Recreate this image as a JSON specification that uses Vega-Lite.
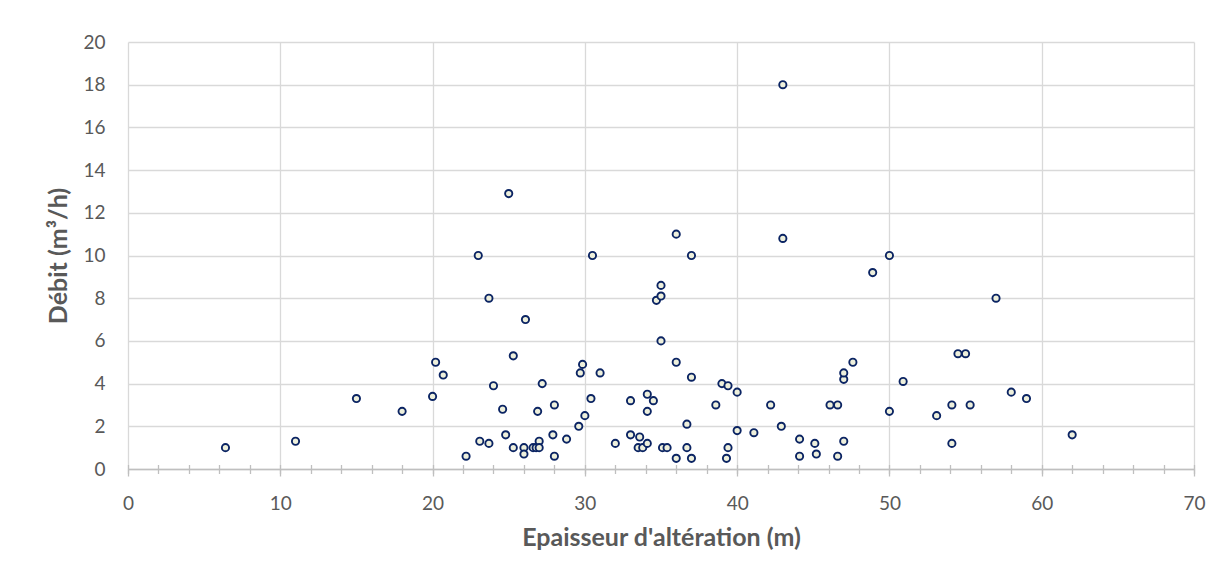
{
  "$schema": "https://vega.github.io/schema/vega-lite/v6.json",
  "autosize": {"type": "none"},
  "width": 1066,
  "height": 427,
  "padding": {"left": 128, "top": 42, "right": 31, "bottom": 111},
  "background": "white",
  "config": {
    "view": {"stroke": null},
    "font": "Lato",
    "axis": {"labelFont": "Lato", "titleFont": "Lato", "labelColor": "#595959", "titleColor": "#595959"}
  },
  "datasets": {
    "pts": [
      {"e": 6.4, "d": 1.0}, {"e": 11.0, "d": 1.3}, {"e": 15.0, "d": 3.3}, {"e": 18.0, "d": 2.7},
      {"e": 20.0, "d": 3.4}, {"e": 20.2, "d": 5.0}, {"e": 20.7, "d": 4.4}, {"e": 22.2, "d": 0.6},
      {"e": 23.1, "d": 1.3}, {"e": 23.0, "d": 10.0}, {"e": 23.7, "d": 1.2}, {"e": 23.7, "d": 8.0},
      {"e": 24.0, "d": 3.9}, {"e": 24.6, "d": 2.8}, {"e": 24.8, "d": 1.6}, {"e": 25.0, "d": 12.9},
      {"e": 25.3, "d": 1.0}, {"e": 25.3, "d": 5.3}, {"e": 26.1, "d": 7.0}, {"e": 26.0, "d": 1.0},
      {"e": 26.0, "d": 0.7}, {"e": 26.6, "d": 1.0}, {"e": 26.8, "d": 1.0}, {"e": 27.0, "d": 1.3},
      {"e": 27.0, "d": 1.0}, {"e": 26.9, "d": 2.7}, {"e": 27.2, "d": 4.0}, {"e": 28.0, "d": 3.0},
      {"e": 27.9, "d": 1.6}, {"e": 28.0, "d": 0.6}, {"e": 28.8, "d": 1.4}, {"e": 29.6, "d": 2.0},
      {"e": 29.7, "d": 4.5}, {"e": 29.85, "d": 4.9}, {"e": 30.0, "d": 2.5}, {"e": 30.4, "d": 3.3},
      {"e": 30.5, "d": 10.0}, {"e": 31.0, "d": 4.5}, {"e": 32.0, "d": 1.2}, {"e": 33.0, "d": 3.2},
      {"e": 33.0, "d": 1.6}, {"e": 33.6, "d": 1.5}, {"e": 33.5, "d": 1.0}, {"e": 33.8, "d": 1.0},
      {"e": 34.1, "d": 1.2}, {"e": 34.1, "d": 3.5}, {"e": 34.1, "d": 2.7}, {"e": 34.5, "d": 3.2},
      {"e": 34.7, "d": 7.9}, {"e": 35.0, "d": 8.6}, {"e": 35.0, "d": 8.1}, {"e": 35.0, "d": 6.0},
      {"e": 35.1, "d": 1.0}, {"e": 35.4, "d": 1.0}, {"e": 36.0, "d": 0.5}, {"e": 36.0, "d": 11.0},
      {"e": 36.0, "d": 5.0}, {"e": 36.7, "d": 2.1}, {"e": 36.7, "d": 1.0}, {"e": 37.0, "d": 0.5},
      {"e": 37.0, "d": 10.0}, {"e": 37.0, "d": 4.3}, {"e": 38.6, "d": 3.0}, {"e": 39.0, "d": 4.0},
      {"e": 39.4, "d": 3.9}, {"e": 39.3, "d": 0.5}, {"e": 39.4, "d": 1.0}, {"e": 40.0, "d": 3.6},
      {"e": 40.0, "d": 1.8}, {"e": 41.1, "d": 1.7}, {"e": 42.2, "d": 3.0}, {"e": 42.9, "d": 2.0},
      {"e": 43.0, "d": 18.0}, {"e": 43.0, "d": 10.8}, {"e": 44.1, "d": 1.4}, {"e": 44.1, "d": 0.6},
      {"e": 45.1, "d": 1.2}, {"e": 45.2, "d": 0.7}, {"e": 46.1, "d": 3.0}, {"e": 46.6, "d": 3.0},
      {"e": 46.6, "d": 0.6}, {"e": 47.0, "d": 1.3}, {"e": 47.0, "d": 4.2}, {"e": 47.0, "d": 4.5},
      {"e": 47.6, "d": 5.0}, {"e": 48.9, "d": 9.2}, {"e": 50.0, "d": 10.0}, {"e": 50.0, "d": 2.7},
      {"e": 50.9, "d": 4.1}, {"e": 53.1, "d": 2.5}, {"e": 54.1, "d": 3.0}, {"e": 54.1, "d": 1.2},
      {"e": 54.5, "d": 5.4}, {"e": 55.0, "d": 5.4}, {"e": 55.3, "d": 3.0}, {"e": 57.0, "d": 8.0},
      {"e": 58.0, "d": 3.6}, {"e": 59.0, "d": 3.3}, {"e": 62.0, "d": 1.6}
    ]
  },
  "data": {"name": "pts"},
  "layer": [
    {
      "mark": {"type": "point", "opacity": 0},
      "encoding": {
        "x": {"field": "e", "type": "quantitative", "scale": {"domain": [0, 70], "nice": false, "zero": false},
          "axis": {"orient": "bottom", "values": [0,2,4,6,8,10,12,14,16,18,20,22,24,26,28,30,32,34,36,38,40,42,44,46,48,50,52,54,56,58,60,62,64,66,68,70],
            "labels": false, "grid": false, "domain": false, "title": null, "tickSize": -4.5, "tickColor": "#bfbfbf", "tickWidth": 1.3}}
      }
    },
    {
      "mark": {"type": "point", "opacity": 0},
      "encoding": {
        "x": {"field": "e", "type": "quantitative", "scale": {"domain": [0, 70], "nice": false, "zero": false},
          "axis": {"orient": "bottom", "values": [0,2,4,6,8,10,12,14,16,18,20,22,24,26,28,30,32,34,36,38,40,42,44,46,48,50,52,54,56,58,60,62,64,66,68,70],
            "labels": false, "grid": false, "domain": false, "title": null, "tickSize": 4.5, "tickColor": "#bfbfbf", "tickWidth": 1.3}}
      }
    },
    {
      "mark": {"type": "point", "shape": "circle", "filled": false, "size": 52, "stroke": "#0b2463", "strokeWidth": 1.9, "fill": "#eef0dc", "fillOpacity": 1, "opacity": 1},
      "encoding": {
        "x": {"field": "e", "type": "quantitative", "scale": {"domain": [0, 70], "nice": false, "zero": false},
          "axis": {"orient": "bottom", "values": [0,10,20,30,40,50,60,70], "title": "Epaisseur d'altération (m)",
            "grid": true, "gridColor": "#d9d9d9", "gridWidth": 1.3,
            "domain": true, "domainColor": "#bfbfbf", "domainWidth": 1.5,
            "ticks": true, "tickSize": 7, "tickColor": "#bfbfbf", "tickWidth": 1.3,
            "labelFontSize": 19, "labelPadding": 18, "labelFlush": false,
            "titleFontSize": 25, "titleFontWeight": "bold", "titlePadding": 12}},
        "y": {"field": "d", "type": "quantitative", "scale": {"domain": [0, 20], "nice": false},
          "axis": {"values": [0,2,4,6,8,10,12,14,16,18,20], "title": "Débit (m³/h)",
            "grid": true, "gridColor": "#d9d9d9", "gridWidth": 1.3,
            "domain": false, "ticks": false,
            "labelFontSize": 19, "labelPadding": 23,
            "titleFontSize": 25, "titleFontWeight": "bold", "titlePadding": 11}}
      }
    }
  ],
  "resolve": {"axis": {"x": "independent"}}
}
